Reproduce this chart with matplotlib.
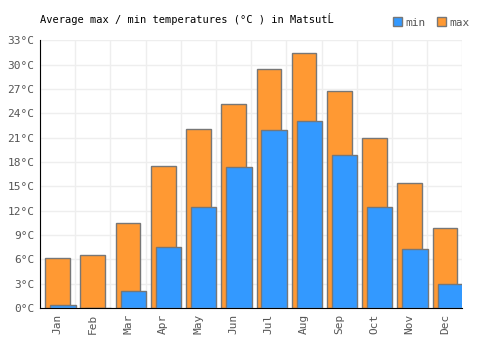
import matplotlib.pyplot as plt
import numpy as np

months = ['Jan', 'Feb', 'Mar', 'Apr', 'May', 'Jun', 'Jul', 'Aug', 'Sep', 'Oct', 'Nov', 'Dec']
t_max = [6.2, 6.5, 10.5, 17.5, 22.1, 25.2, 29.5, 31.4, 26.8, 21.0, 15.4, 9.9]
t_min = [0.4, 0.0, 2.1, 7.5, 12.5, 17.4, 22.0, 23.1, 18.9, 12.5, 7.3, 3.0]
y_ticks = [0, 3, 6, 9, 12, 15, 18, 21, 24, 27, 30, 33]

plt.rcParams['font.family'] = ['DejaVu Sans Mono']

fig = plt.figure(figsize=(5, 3.5), dpi=100)
ax = fig.add_axes([0.08, 0.12, 0.845, 0.765])

x = np.arange(len(months))
ax.bar(x, t_max, width=0.7, color='#ff9933', edgecolor='#777777', linewidth=1, label='max', zorder=2)
ax.bar(x + 0.15, t_min, width=0.72, color='#3399ff', edgecolor='#777777', linewidth=1, label='min', zorder=3)

ax.set_xlim(-0.5, len(months) - 0.5)
ax.set_ylim(0, 33)
ax.set_yticks(y_ticks)
ax.set_yticklabels([f'{v}°C' for v in y_ticks], fontsize=8, color='#555555')
ax.set_xticks(x)
ax.set_xticklabels(months, rotation=90, fontsize=8, color='#555555')
ax.set_xticks(np.arange(-0.5, len(months), 1), minor=True)
ax.grid(True, axis='y', color='#eeeeee', linewidth=1, zorder=0)
ax.grid(True, axis='x', which='minor', color='#eeeeee', linewidth=1, zorder=0)
ax.tick_params(axis='both', which='both', length=0, pad=4)
for s in ['top', 'right']:
    ax.spines[s].set_visible(False)
ax.spines['left'].set_color('black')
ax.spines['bottom'].set_color('black')

fig.text(0.08, 0.945, 'Average max / min temperatures (°C ) in MatsutĹ', fontsize=7.5, ha='left', va='center')

h, l = ax.get_legend_handles_labels()
ax.legend(h[::-1], l[::-1], loc='lower right', bbox_to_anchor=(1.04, 1.01), ncol=2, frameon=False,
          fontsize=8, handlelength=0.8, handleheight=0.8, handletextpad=0.3, columnspacing=1.0, labelcolor='#555555')

fig.savefig('out.png', dpi=100, facecolor='white')
